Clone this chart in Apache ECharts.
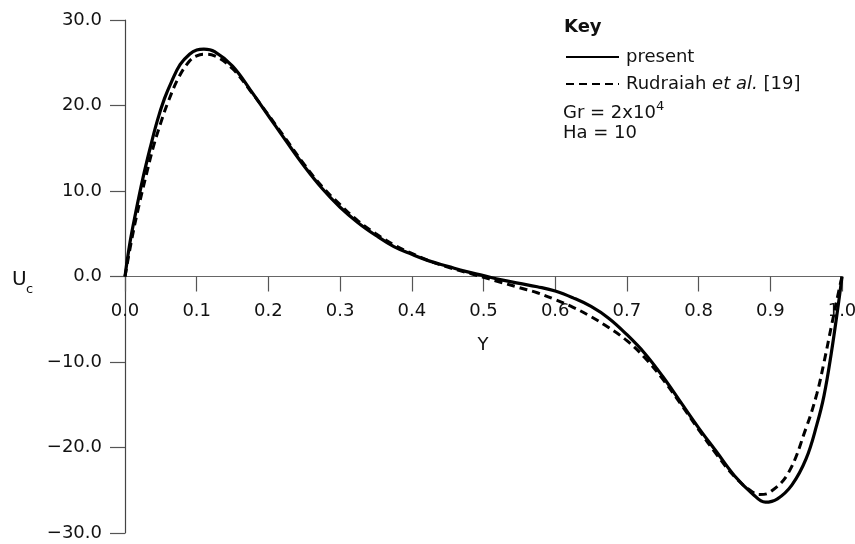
<!DOCTYPE html>
<html>
<head>
<meta charset="utf-8">
<script src="https://cdn.jsdelivr.net/npm/echarts@6/dist/echarts.min.js"></script>
<style>
html,body{margin:0;padding:0;background:#fff;}
#chart{width:855px;height:544px;}
</style>
</head>
<body>
<div id="chart"></div>
<script>
// Data
var xPresent = [0, 0.007, 0.015, 0.025, 0.035, 0.045, 0.055, 0.065, 0.077, 0.09, 0.1, 0.11, 0.125, 0.15, 0.175, 0.2, 0.225, 0.25, 0.275, 0.3, 0.325, 0.35, 0.375, 0.4, 0.425, 0.45, 0.475, 0.5, 0.525, 0.55, 0.575, 0.6, 0.625, 0.65, 0.675, 0.7, 0.725, 0.75, 0.775, 0.8, 0.825, 0.85, 0.875, 0.893, 0.91, 0.93, 0.95, 0.965, 0.975, 0.985, 0.995, 1.0];
var uPresent = [0, 4.0, 7.5, 11.5, 15.0, 18.2, 20.8, 22.8, 24.8, 26.0, 26.5, 26.6, 26.3, 24.6, 21.8, 18.8, 15.8, 12.9, 10.3, 8.1, 6.3, 4.8, 3.5, 2.6, 1.8, 1.2, 0.6, 0.1, -0.4, -0.8, -1.2, -1.7, -2.5, -3.5, -4.9, -6.8, -9.0, -11.7, -14.7, -17.7, -20.5, -23.3, -25.4, -26.4, -26.0, -24.4, -21.3, -17.3, -13.9, -9.0, -3.2, 0];

var xRudraiah = [0, 0.01, 0.02, 0.03, 0.04, 0.05, 0.06, 0.075, 0.09, 0.1, 0.11, 0.125, 0.15, 0.175, 0.2, 0.225, 0.25, 0.275, 0.3, 0.325, 0.35, 0.375, 0.4, 0.425, 0.45, 0.475, 0.5, 0.525, 0.55, 0.575, 0.6, 0.625, 0.65, 0.675, 0.7, 0.725, 0.75, 0.775, 0.8, 0.825, 0.85, 0.875, 0.885, 0.9, 0.925, 0.95, 0.965, 0.975, 0.985, 0.995, 1.0];
var uRudraiah = [0, 4.6, 8.5, 12.0, 15.3, 18.0, 20.4, 23.3, 25.2, 25.8, 26.0, 25.8, 24.3, 21.7, 18.9, 16.0, 13.1, 10.5, 8.4, 6.5, 5.0, 3.7, 2.7, 1.8, 1.1, 0.5, -0.1, -0.7, -1.3, -1.9, -2.7, -3.6, -4.7, -6.0, -7.5, -9.5, -12.0, -14.9, -17.9, -20.8, -23.4, -25.2, -25.5, -25.2, -23.0, -17.7, -13.7, -10.0, -5.9, -1.9, 0];

var seriesNames = ['present', 'Rudraiah et al. [19]'];
var xTickLabels = ['0.0','0.1','0.2','0.3','0.4','0.5','0.6','0.7','0.8','0.9','1.0'];

function pairs(xs, ys) { return xs.map(function (x, i) { return [x, ys[i]]; }); }

var FONT = 'DejaVu Sans';
var Y_MIN = -30, Y_MAX = 30;
var GRID_TOP = 20, GRID_BOTTOM = 11, HEIGHT = 544;
// the x axis line sits at U = 0
var plotH = HEIGHT - GRID_TOP - GRID_BOTTOM;
var zeroOffset = -plotH * (0 - Y_MIN) / (Y_MAX - Y_MIN);

var chart = echarts.init(document.getElementById('chart'), null, {renderer: 'canvas'});
chart.setOption({
  animation: false,
  backgroundColor: '#fff',
  grid: {left: 125, right: 13, top: GRID_TOP, bottom: GRID_BOTTOM, containLabel: false, outerBoundsMode: 'none'},
  xAxis: {
    type: 'value', min: 0, max: 1, interval: 0.1,
    position: 'bottom', offset: zeroOffset,
    axisLine: {show: true, onZero: false, lineStyle: {color: '#666', width: 1.2}},
    axisTick: {show: true, length: 15, lineStyle: {color: '#555', width: 1.2}},
    axisLabel: {
      show: true, margin: 26, fontFamily: FONT, fontSize: 18, color: '#111',
      formatter: function (v) {
        var i = Math.round(Number(v) * 10);
        return xTickLabels[i] !== undefined ? xTickLabels[i] : String(v);
      }
    },
    splitLine: {show: false}
  },
  yAxis: {
    type: 'value', min: Y_MIN, max: Y_MAX, interval: 10,
    axisLine: {show: true, onZero: false, lineStyle: {color: '#444', width: 1.2}},
    axisTick: {show: true, length: 15, lineStyle: {color: '#555', width: 1.2}},
    axisLabel: {
      margin: 23, fontFamily: FONT, fontSize: 18, color: '#111',
      formatter: function (v) { return v < 0 ? '\u2212' + Math.abs(v).toFixed(1) : v.toFixed(1); }
    },
    splitLine: {show: false}
  },
  legend: {
    show: true, orient: 'vertical', left: 565, top: 48, padding: 0,
    itemWidth: 53, itemHeight: 14, itemGap: 9,
    data: seriesNames,
    itemStyle: {color: 'rgba(0,0,0,0)', borderWidth: 0, opacity: 0},
    textStyle: {
      fontFamily: FONT, fontSize: 18, color: '#111', padding: [0, 0, 0, 2],
      rich: {i: {fontFamily: FONT, fontSize: 18, fontStyle: 'italic', color: '#111'}}
    },
    formatter: function (name) {
      return name === seriesNames[1] ? 'Rudraiah {i|et al.} [19]' : name;
    }
  },
  graphic: [
    {type: 'text', left: 564, top: 18, style: {text: 'Key', fontFamily: FONT, fontSize: 18, fontWeight: 'bold', fill: '#111'}},
    {type: 'text', left: 563, top: 100, style: {
      text: '{a|Gr = 2x10}{b|4}', fill: '#111',
      rich: {a: {fontFamily: FONT, fontSize: 18, lineHeight: 22, verticalAlign: 'bottom', fill: '#111'},
             b: {fontFamily: FONT, fontSize: 13, lineHeight: 14, verticalAlign: 'top', fill: '#111'}}
    }},
    {type: 'text', left: 563, top: 124, style: {text: 'Ha = 10', fontFamily: FONT, fontSize: 18, fill: '#111'}},
    {type: 'text', x: 483, y: 345, style: {text: 'Y', fontFamily: FONT, fontSize: 18, fill: '#111', align: 'center', verticalAlign: 'middle'}},
    {type: 'text', x: 12, y: 280, style: {text: 'U', fontFamily: FONT, fontSize: 20, fill: '#111', align: 'left', verticalAlign: 'middle'}},
    {type: 'text', x: 26, y: 290, style: {text: 'c', fontFamily: FONT, fontSize: 13, fill: '#111', align: 'left', verticalAlign: 'middle'}}
  ],
  series: [
    {
      name: seriesNames[0], type: 'line', data: pairs(xPresent, uPresent),
      symbol: 'none', smooth: 0.4, clip: false,
      lineStyle: {color: '#000', width: 3.2, type: 'solid'},
      itemStyle: {color: '#000'}, z: 3
    },
    {
      name: seriesNames[1], type: 'line', data: pairs(xRudraiah, uRudraiah),
      symbol: 'none', smooth: 0.4, clip: false,
      lineStyle: {color: '#000', width: 3, type: [8, 5]},
      itemStyle: {color: '#000'}, z: 2
    }
  ]
});
</script>
</body>
</html>
